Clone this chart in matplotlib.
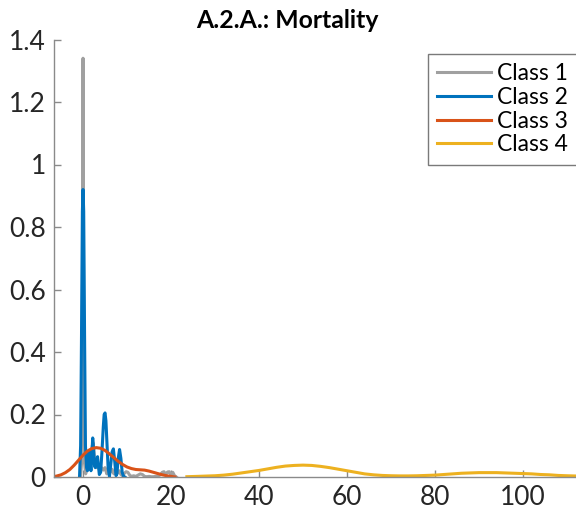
import matplotlib
matplotlib.use("Agg")
import matplotlib.pyplot as plt

plt.rcParams['font.family'] = ['Lato', 'DejaVu Sans']

# density curves per class (x, density)
class1_x = [-0.6, -0.3, -0.12, 0.0, 0.12, 0.3, 0.6, 0.9, 1.2, 1.5, 1.8, 2.1, 2.3, 2.6, 3.0, 3.4, 3.8,
            4.2, 4.6, 5.0, 5.4, 5.8, 6.2, 6.6, 7.0, 7.4, 7.8, 8.2, 8.6, 9.0, 9.4, 9.8, 10.2, 10.6,
            11.0, 11.5, 12.0, 12.5, 13.0, 13.5, 14.0, 14.5, 15.0, 15.5, 16.0, 16.5, 17.0, 17.5,
            18.0, 18.4, 18.8, 19.2, 19.6, 20.0, 20.4, 20.8, 21.2]
class1_y = [0.0, 0.05, 0.6, 1.34, 0.6, 0.05, 0.01, 0.03, 0.05, 0.04, 0.06, 0.1, 0.11, 0.06, 0.03,
            0.04, 0.02, 0.03, 0.022, 0.03, 0.01, 0.02, 0.015, 0.025, 0.01, 0.02, 0.012, 0.02, 0.008,
            0.004, 0.012, 0.017, 0.015, 0.006, 0.002, 0.004, 0.002, 0.006, 0.01, 0.008, 0.002,
            0.001, 0.002, 0.001, 0.001, 0.002, 0.003, 0.006, 0.015, 0.017, 0.008, 0.016, 0.017,
            0.006, 0.015, 0.004, 0.0]

class2_x = [-0.8, -0.55, -0.35, -0.15, 0.0, 0.15, 0.35, 0.55, 0.8, 1.0, 1.2, 1.4, 1.6, 1.8, 2.0,
            2.2, 2.4, 2.6, 2.8, 3.0, 3.3, 3.5, 3.7, 4.0, 4.3, 4.6, 4.8, 5.0, 5.2, 5.4, 5.7, 6.0,
            6.3, 6.6, 6.9, 7.2, 7.5, 7.7, 8.0, 8.3, 8.6, 8.9, 9.2, 9.5]
class2_y = [0.0, 0.1, 0.45, 0.85, 0.92, 0.85, 0.45, 0.1, 0.03, 0.02, 0.05, 0.085, 0.05, 0.02, 0.07,
            0.125, 0.09, 0.035, 0.03, 0.05, 0.065, 0.035, 0.008, 0.015, 0.08, 0.16, 0.2, 0.205, 0.18,
            0.12, 0.03, 0.002, 0.04, 0.08, 0.09, 0.05, 0.004, 0.01, 0.06, 0.088, 0.06, 0.015, 0.002,
            0.0]

class3_x = [-6.8, -6.0, -5.0, -4.0, -3.0, -2.0, -1.0, 0.0, 1.0, 2.0, 3.0, 4.0, 5.0, 6.0, 7.0, 8.0,
            9.0, 10.0, 11.0, 12.0, 13.0, 14.0, 15.0, 16.0, 17.0, 18.0, 19.0, 20.0, 20.9]
class3_y = [0.001, 0.003, 0.007, 0.014, 0.024, 0.038, 0.054, 0.07, 0.083, 0.091, 0.094, 0.092,
            0.085, 0.074, 0.062, 0.05, 0.04, 0.032, 0.027, 0.024, 0.023, 0.022, 0.019, 0.015,
            0.011, 0.007, 0.004, 0.002, 0.0]

class4_x = [23.6, 26, 28, 30, 32, 34, 36, 38, 40, 42, 44, 46, 48, 50, 52, 54, 56, 58, 60, 62, 64,
            66, 68, 70, 72, 74, 76, 78, 80, 82, 84, 86, 88, 90, 92, 94, 96, 98, 100, 102, 104, 106,
            108, 110, 112.5]
class4_y = [0.001, 0.002, 0.003, 0.004, 0.006, 0.009, 0.013, 0.017, 0.021, 0.026, 0.031, 0.035,
            0.037, 0.038, 0.037, 0.034, 0.03, 0.025, 0.02, 0.015, 0.01, 0.007, 0.005, 0.004,
            0.0035, 0.0035, 0.004, 0.005, 0.006, 0.008, 0.01, 0.012, 0.013, 0.014, 0.014, 0.014,
            0.013, 0.012, 0.011, 0.01, 0.008, 0.007, 0.005, 0.004, 0.003]

labels = ['Class 1', 'Class 2', 'Class 3', 'Class 4']
colors = ['#a0a0a0', '#0072BD', '#D95319', '#EDB120']

x_ticks = [0, 20, 40, 60, 80, 100]
y_ticks = [0, 0.2, 0.4, 0.6, 0.8, 1.0, 1.2, 1.4]
y_tick_labels = ['0', '0.2', '0.4', '0.6', '0.8', '1', '1.2', '1.4']

W, H = 576, 519
fig = plt.figure(figsize=(W / 100, H / 100), dpi=100)
ax = fig.add_axes([54 / W, 42 / H, 524 / W, 437.5 / H])

series = [(class1_x, class1_y), (class2_x, class2_y), (class3_x, class3_y), (class4_x, class4_y)]
for (xs, ys), lab, col in zip(series, labels, colors):
    ax.plot(xs, ys, color=col, lw=2.2, label=lab, solid_joinstyle='round')

ax.set_xlim(-6.6, 112.5)
ax.set_ylim(0, 1.4)
ax.set_xticks(x_ticks)
ax.set_yticks(y_ticks)
ax.set_yticklabels(y_tick_labels)

axis_gray = '#8a8a8a'
for side in ['top', 'right']:
    ax.spines[side].set_visible(False)
for side in ['left', 'bottom']:
    ax.spines[side].set_color(axis_gray)
    ax.spines[side].set_linewidth(1.0)
ax.tick_params(direction='in', length=5, width=1, color=axis_gray,
               labelsize=19, labelcolor='#262626', pad=6)

ax.set_title('A.2.A.: Mortality', fontsize=17.8, fontweight='bold', x=0.445, pad=8)

leg = ax.legend(loc='upper right', bbox_to_anchor=(577 / W, 1 - 54 / H),
                bbox_transform=fig.transFigure, borderaxespad=0, fancybox=False,
                fontsize=16.5, handlelength=2.35, handletextpad=0.25, labelspacing=0.12,
                borderpad=0.4, framealpha=1)
leg.get_frame().set_edgecolor('#7a7a7a')
leg.get_frame().set_linewidth(1.0)

fig.savefig('out.png', dpi=100)
